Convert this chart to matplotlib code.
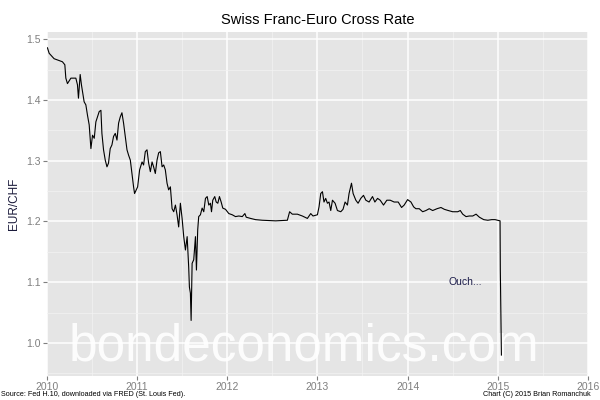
import matplotlib
matplotlib.use("Agg")
import matplotlib.pyplot as plt
from matplotlib.ticker import MultipleLocator, FormatStrFormatter

plt.rcParams['font.family'] = ['Liberation Sans', 'DejaVu Sans']

# EUR/CHF (decimal year, rate)
years = [
    2010.007, 2010.026, 2010.062, 2010.081, 2010.118, 2010.173, 2010.200, 2010.211,
    2010.229, 2010.267, 2010.322, 2010.340, 2010.351, 2010.370, 2010.384, 2010.396,
    2010.414, 2010.433, 2010.451, 2010.470, 2010.489, 2010.507, 2010.526, 2010.544,
    2010.562, 2010.581, 2010.600, 2010.611, 2010.629, 2010.648, 2010.667, 2010.684,
    2010.703, 2010.722, 2010.740, 2010.759, 2010.778, 2010.796, 2010.814, 2010.833,
    2010.851, 2010.870, 2010.889, 2010.907, 2010.926, 2010.944, 2010.962, 2010.973,
    2010.992, 2011.007, 2011.029, 2011.056, 2011.073, 2011.092, 2011.111, 2011.129,
    2011.148, 2011.167, 2011.184, 2011.203, 2011.222, 2011.240, 2011.259, 2011.278,
    2011.296, 2011.314, 2011.333, 2011.351, 2011.370, 2011.389, 2011.407, 2011.426,
    2011.444, 2011.462, 2011.481, 2011.500, 2011.518, 2011.537, 2011.556, 2011.573,
    2011.581, 2011.592, 2011.600, 2011.611, 2011.629, 2011.648, 2011.659, 2011.673,
    2011.684, 2011.703, 2011.722, 2011.740, 2011.759, 2011.778, 2011.796, 2011.814,
    2011.826, 2011.840, 2011.862, 2011.878, 2011.896, 2011.914, 2011.933, 2011.951,
    2011.981, 2012.018, 2012.056, 2012.092, 2012.129, 2012.167, 2012.196, 2012.211,
    2012.259, 2012.314, 2012.389, 2012.537, 2012.667, 2012.692, 2012.722, 2012.778,
    2012.833, 2012.889, 2012.926, 2012.951, 2013.000, 2013.018, 2013.037, 2013.056,
    2013.073, 2013.092, 2013.111, 2013.129, 2013.148, 2013.167, 2013.196, 2013.222,
    2013.259, 2013.284, 2013.307, 2013.333, 2013.351, 2013.378, 2013.396, 2013.426,
    2013.451, 2013.481, 2013.511, 2013.537, 2013.573, 2013.611, 2013.637, 2013.667,
    2013.696, 2013.733, 2013.770, 2013.807, 2013.851, 2013.896, 2013.933, 2013.962,
    2014.000, 2014.037, 2014.067, 2014.092, 2014.129, 2014.167, 2014.203, 2014.240,
    2014.278, 2014.326, 2014.370, 2014.407, 2014.451, 2014.500, 2014.556, 2014.584,
    2014.611, 2014.648, 2014.684, 2014.722, 2014.759, 2014.796, 2014.844, 2014.889,
    2014.933, 2014.970, 2015.000, 2015.025, 2015.028, 2015.040,
]
eurchf = [
    1.486, 1.477, 1.471, 1.468, 1.466, 1.463, 1.458, 1.436,
    1.427, 1.436, 1.436, 1.425, 1.403, 1.442, 1.425, 1.414,
    1.397, 1.392, 1.375, 1.359, 1.320, 1.342, 1.337, 1.364,
    1.372, 1.381, 1.383, 1.345, 1.318, 1.301, 1.290, 1.296,
    1.320, 1.326, 1.340, 1.345, 1.334, 1.362, 1.372, 1.379,
    1.362, 1.340, 1.318, 1.309, 1.301, 1.279, 1.257, 1.246,
    1.252, 1.257, 1.285, 1.298, 1.293, 1.315, 1.318, 1.296,
    1.282, 1.298, 1.290, 1.279, 1.301, 1.313, 1.315, 1.290,
    1.293, 1.285, 1.263, 1.252, 1.257, 1.221, 1.216, 1.227,
    1.211, 1.191, 1.230, 1.205, 1.175, 1.153, 1.175, 1.125,
    1.092, 1.082, 1.037, 1.131, 1.137, 1.175, 1.120, 1.186,
    1.208, 1.211, 1.222, 1.216, 1.238, 1.241, 1.227, 1.230,
    1.216, 1.235, 1.241, 1.232, 1.230, 1.241, 1.232, 1.222,
    1.220, 1.213, 1.211, 1.208, 1.209, 1.208, 1.213, 1.207,
    1.205, 1.203, 1.202, 1.201, 1.202, 1.216, 1.212, 1.212,
    1.209, 1.205, 1.213, 1.209, 1.211, 1.224, 1.246, 1.249,
    1.232, 1.238, 1.230, 1.232, 1.218, 1.235, 1.230, 1.218,
    1.216, 1.220, 1.232, 1.227, 1.246, 1.263, 1.246, 1.235,
    1.230, 1.238, 1.243, 1.235, 1.232, 1.241, 1.232, 1.238,
    1.235, 1.227, 1.235, 1.235, 1.232, 1.232, 1.223, 1.227,
    1.236, 1.232, 1.224, 1.221, 1.221, 1.216, 1.218, 1.221,
    1.218, 1.221, 1.223, 1.220, 1.218, 1.216, 1.216, 1.218,
    1.212, 1.208, 1.209, 1.209, 1.212, 1.207, 1.203, 1.202,
    1.203, 1.203, 1.202, 1.201, 1.120, 0.980,
]

grey_txt = '#7f7f7f'

fig = plt.figure(figsize=(6, 4), dpi=100)
ax = fig.add_axes([0.078, 0.06, 0.902, 0.86])
ax.set_facecolor('#e5e5e5')
for s in ax.spines.values():
    s.set_visible(False)

ax.xaxis.set_major_locator(MultipleLocator(1))
ax.xaxis.set_minor_locator(MultipleLocator(0.5))
ax.yaxis.set_major_locator(MultipleLocator(0.1))
ax.yaxis.set_minor_locator(MultipleLocator(0.05))
ax.grid(which='major', color='white', lw=1.1)
ax.grid(which='minor', color='#f2f2f2', lw=0.55)
ax.set_axisbelow(True)
ax.tick_params(which='major', length=3, width=0.8, color=grey_txt,
               labelcolor=grey_txt, labelsize=7.5, pad=1.5)
ax.tick_params(which='minor', length=0)

ax.set_xlim(2010, 2016)
ax.set_ylim(0.9455, 1.512)
ax.yaxis.set_major_formatter(FormatStrFormatter('%.1f'))
ax.xaxis.set_major_formatter(FormatStrFormatter('%d'))

# watermark
ax.text(0.476, 0.044, 'bondeconomics.com', transform=ax.transAxes, color='white',
        alpha=0.9, fontsize=37, ha='center', va='baseline', zorder=1, clip_on=True)

ax.plot(years, eurchf, color='black', lw=0.8, zorder=3)

ax.text(2014.64, 1.10, 'Ouch...', color='#1c1c4a', fontsize=7.5,
        ha='center', va='center')

ax.set_title('Swiss Franc-Euro Cross Rate', fontsize=10.5, pad=6)
ax.set_ylabel('EUR/CHF', fontsize=8.5, color='#1a1a3a', labelpad=4)

fig.text(0.002, 0.004, 'Source: Fed H.10, downloaded via FRED (St. Louis Fed).',
         fontsize=5.2, ha='left', va='bottom')
fig.text(0.985, 0.004, 'Chart (C) 2015 Brian Romanchuk',
         fontsize=5.2, ha='right', va='bottom')

fig.savefig('out.png', dpi=100)
